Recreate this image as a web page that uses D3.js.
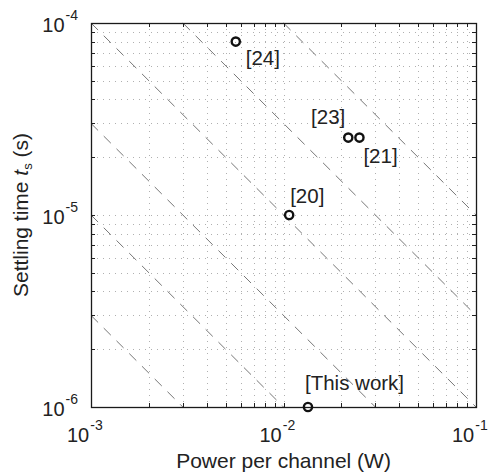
<!DOCTYPE html>
<html>
<head>
<meta charset="utf-8">
<script src="https://cdn.jsdelivr.net/npm/d3@7"></script>
<style>
  body { margin: 0; background: #fff; }
  svg { display: block; font-family: "Liberation Sans", Arial, sans-serif; }
</style>
</head>
<body>
<script>
// Works compared: power per channel (W) vs settling time (s)
const refs   = ["[24]", "[23]", "[21]", "[20]", "[This work]"];
const power  = [5.65e-3, 2.17e-2, 2.48e-2, 1.07e-2, 1.34e-2];
const tSettle = [8.0e-5, 2.53e-5, 2.53e-5, 1.0e-5, 1.0e-6];

// constant energy lines (P * ts)
const energies = [3e-9, 1e-8, 3e-8, 1e-7, 3e-7, 1e-6];

// axis ranges and labelled decades
const xDomain = [1e-3, 1e-1];
const yDomain = [1e-6, 1e-4];
const xExp = [-3, -2, -1];
const yExp = [-6, -5, -4];

const W = 490, H = 472;
const margin = {top: 23, right: 14, bottom: 65, left: 91};

// label offsets from each marker (anchor, dx, dy)
const labelPos = {
  "[24]": ["start", 10, 23],
  "[23]": ["end", -3, -14],
  "[21]": ["start", 4, 25],
  "[20]": ["start", 1, -12],
  "[This work]": ["start", -3, -17]
};

const svg = d3.select("body").append("svg")
    .attr("width", W)
    .attr("height", H);

let x = d3.scaleLog().domain(xDomain).range([margin.left, W - margin.right]);
let y = d3.scaleLog().domain(yDomain).range([H - margin.bottom, margin.top]);

let [x0, x1] = x.range();
let [y0, y1] = y.range();

// Grid (major + minor, dotted)
let grid = svg.append("g").attr("stroke", "#b0b0b0").attr("stroke-width", 1)
    .attr("stroke-dasharray", "1,5");
grid.selectAll(".gx").data(x.ticks()).join("line")
    .attr("x1", d => Math.round(x(d)) + 0.5).attr("x2", d => Math.round(x(d)) + 0.5)
    .attr("y1", y1).attr("y2", y0);
grid.selectAll(".gy").data(y.ticks()).join("line")
    .attr("y1", d => Math.round(y(d)) + 0.5).attr("y2", d => Math.round(y(d)) + 0.5)
    .attr("x1", x0).attr("x2", x1);

// Constant-energy dashed lines, clipped to the axes box
svg.append("g").selectAll("line").data(energies).join("line")
    .attr("x1", e => x(Math.max(xDomain[0], e / yDomain[1])))
    .attr("y1", e => y(e / Math.max(xDomain[0], e / yDomain[1])))
    .attr("x2", e => x(Math.min(xDomain[1], e / yDomain[0])))
    .attr("y2", e => y(e / Math.min(xDomain[1], e / yDomain[0])))
    .attr("stroke", "#777")
    .attr("stroke-width", 1)
    .attr("stroke-dasharray", "10,8");

// Inward ticks on all four sides
let tickLen = 4;
let ticks = svg.append("g").attr("stroke", "#222").attr("stroke-width", 1);
x.ticks().forEach(function(d) {
  let px = Math.round(x(d)) + 0.5;
  ticks.append("line").attr("x1", px).attr("x2", px).attr("y1", y0).attr("y2", y0 - tickLen);
  ticks.append("line").attr("x1", px).attr("x2", px).attr("y1", y1).attr("y2", y1 + tickLen);
});
y.ticks().forEach(function(d) {
  let py = Math.round(y(d)) + 0.5;
  ticks.append("line").attr("y1", py).attr("y2", py).attr("x1", x0).attr("x2", x0 + tickLen);
  ticks.append("line").attr("y1", py).attr("y2", py).attr("x1", x1).attr("x2", x1 - tickLen);
});

// Axes box
svg.append("rect")
    .attr("x", x0 + 0.5).attr("y", y1 + 0.5)
    .attr("width", x1 - x0).attr("height", y0 - y1)
    .attr("fill", "none")
    .attr("stroke", "#1a1a1a")
    .attr("stroke-width", 1.3);

// X tick labels 10^n
xExp.forEach(function(n) {
  let t = svg.append("text")
      .attr("x", x(Math.pow(10, n)) - 24)
      .attr("y", y0 + 35)
      .attr("fill", "#222")
      .style("font-size", "20px");
  t.append("tspan").text("10");
  t.append("tspan").attr("dy", -12).attr("dx", 1).style("font-size", "14px").text("-" + Math.abs(n));
});

// Y tick labels 10^n (right aligned)
yExp.forEach(function(n) {
  let t = svg.append("text")
      .attr("x", x0 - 13)
      .attr("y", y(Math.pow(10, n)) + 9)
      .attr("text-anchor", "end")
      .attr("fill", "#222")
      .style("font-size", "20px");
  t.append("tspan").text("10");
  t.append("tspan").attr("dy", -12).attr("dx", 1).style("font-size", "14px").text("-" + Math.abs(n));
});

// Data markers
let pts = refs.map((r, i) => ({ref: r, p: power[i], t: tSettle[i]}));
svg.append("g").selectAll("circle").data(pts).join("circle")
    .attr("cx", d => x(d.p))
    .attr("cy", d => y(d.t))
    .attr("r", 4.1)
    .attr("fill", "none")
    .attr("stroke", "#111")
    .attr("stroke-width", 2.4);

// Reference labels
svg.append("g").selectAll("text").data(pts).join("text")
    .attr("x", d => x(d.p) + labelPos[d.ref][1])
    .attr("y", d => y(d.t) + labelPos[d.ref][2])
    .attr("text-anchor", d => labelPos[d.ref][0])
    .attr("fill", "#222")
    .style("font-size", "20.5px")
    .text(d => d.ref);

// Axis titles
svg.append("text")
    .attr("x", (x0 + x1) / 2)
    .attr("y", 468)
    .attr("text-anchor", "middle")
    .attr("fill", "#222")
    .style("font-size", "21px")
    .text("Power per channel (W)");

let yt = svg.append("text")
    .attr("text-anchor", "middle")
    .attr("transform", "translate(28," + (y0 + y1) / 2 + ")rotate(-90)")
    .attr("fill", "#222")
    .style("font-size", "21px");
yt.append("tspan").text("Settling time ");
yt.append("tspan").style("font-style", "italic").text("t");
yt.append("tspan").attr("dy", 4).style("font-size", "13px").text("s");
yt.append("tspan").attr("dy", -4).text(" (s)");
</script>
</body>
</html>
